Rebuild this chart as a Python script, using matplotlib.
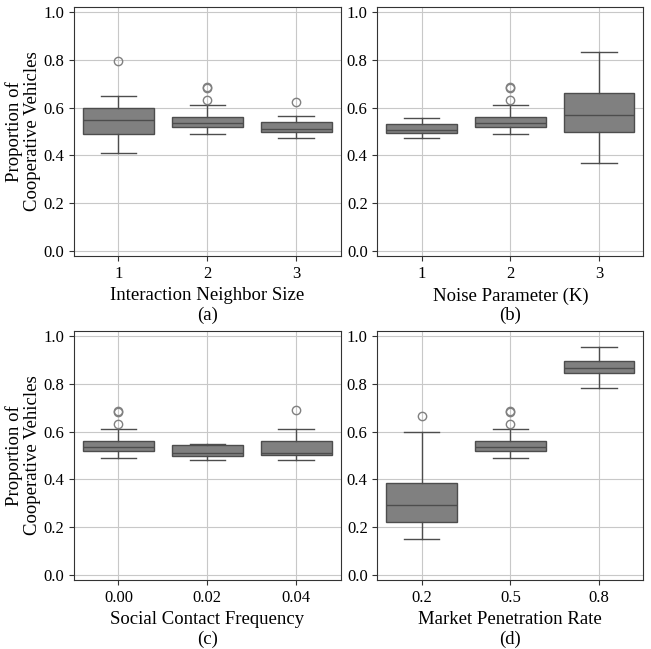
import matplotlib
matplotlib.use("Agg")
import matplotlib.pyplot as plt

plt.rcParams['font.family'] = ['Liberation Serif', 'DejaVu Serif']

# box statistics: (whislo, q1, med, q3, whishi, fliers)
base = (0.489, 0.519, 0.536, 0.562, 0.611, [0.680, 0.685, 0.632])

neighbor_labels = ['1', '2', '3']
neighbor_stats = [
    (0.410, 0.489, 0.549, 0.600, 0.650, [0.796]),
    base,
    (0.474, 0.500, 0.511, 0.539, 0.565, [0.624]),
]

noise_labels = ['1', '2', '3']
noise_stats = [
    (0.474, 0.494, 0.508, 0.533, 0.556, []),
    base,
    (0.367, 0.500, 0.569, 0.661, 0.832, []),
]

contact_labels = ['0.00', '0.02', '0.04']
contact_stats = [
    base,
    (0.483, 0.499, 0.512, 0.542, 0.548, []),
    (0.483, 0.502, 0.512, 0.562, 0.609, [0.691]),
]

penetration_labels = ['0.2', '0.5', '0.8']
penetration_stats = [
    (0.150, 0.223, 0.295, 0.384, 0.600, [0.666]),
    base,
    (0.782, 0.845, 0.866, 0.895, 0.954, []),
]

panels = [
    (neighbor_labels, neighbor_stats, 'Interaction Neighbor Size', '(a)'),
    (noise_labels, noise_stats, 'Noise Parameter (K)', '(b)'),
    (contact_labels, contact_stats, 'Social Contact Frequency', '(c)'),
    (penetration_labels, penetration_stats, 'Market Penetration Rate', '(d)'),
]

fig = plt.figure(figsize=(6.51, 6.49), dpi=100)
positions = [
    [0.1137, 0.6055, 0.4094, 0.3837],
    [0.5797, 0.6055, 0.4085, 0.3837],
    [0.1137, 0.1063, 0.4094, 0.3837],
    [0.5797, 0.1063, 0.4085, 0.3837],
]

edge = '#4d4d4d'
for i, (labels, stats, xlabel, tag) in enumerate(panels):
    ax = fig.add_axes(positions[i])
    bxp_stats = []
    for lab, s in zip(labels, stats):
        bxp_stats.append(dict(label=lab, whislo=s[0], q1=s[1], med=s[2],
                              q3=s[3], whishi=s[4], fliers=s[5]))
    ax.bxp(bxp_stats, positions=range(len(labels)), widths=0.8,
           patch_artist=True,
           boxprops=dict(facecolor='#808080', edgecolor=edge, linewidth=1.0),
           medianprops=dict(color=edge, linewidth=1.0),
           whiskerprops=dict(color=edge, linewidth=1.0),
           capprops=dict(color=edge, linewidth=1.0),
           flierprops=dict(marker='o', markerfacecolor='none',
                           markeredgecolor='#808080', markersize=6,
                           markeredgewidth=1.0))
    ax.set_xlim(-0.5, 2.5)
    ax.set_ylim(-0.02, 1.02)
    ax.set_yticks([0.0, 0.2, 0.4, 0.6, 0.8, 1.0])
    ax.set_yticklabels(['0.0', '0.2', '0.4', '0.6', '0.8', '1.0'])
    ax.grid(True, color='#c8c8c8', linewidth=0.8)
    ax.set_axisbelow(True)
    ax.tick_params(labelsize=12, length=3.5, color='#333333')
    for sp in ax.spines.values():
        sp.set_color('#333333')
    ax.set_xlabel(xlabel + '\n' + tag, fontsize=13.5, linespacing=1.15)
    if i % 2 == 0:
        ax.set_ylabel('Proportion of\nCooperative Vehicles', fontsize=13.5,
                      linespacing=1.05, labelpad=2)

fig.savefig('out.png', dpi=100)
